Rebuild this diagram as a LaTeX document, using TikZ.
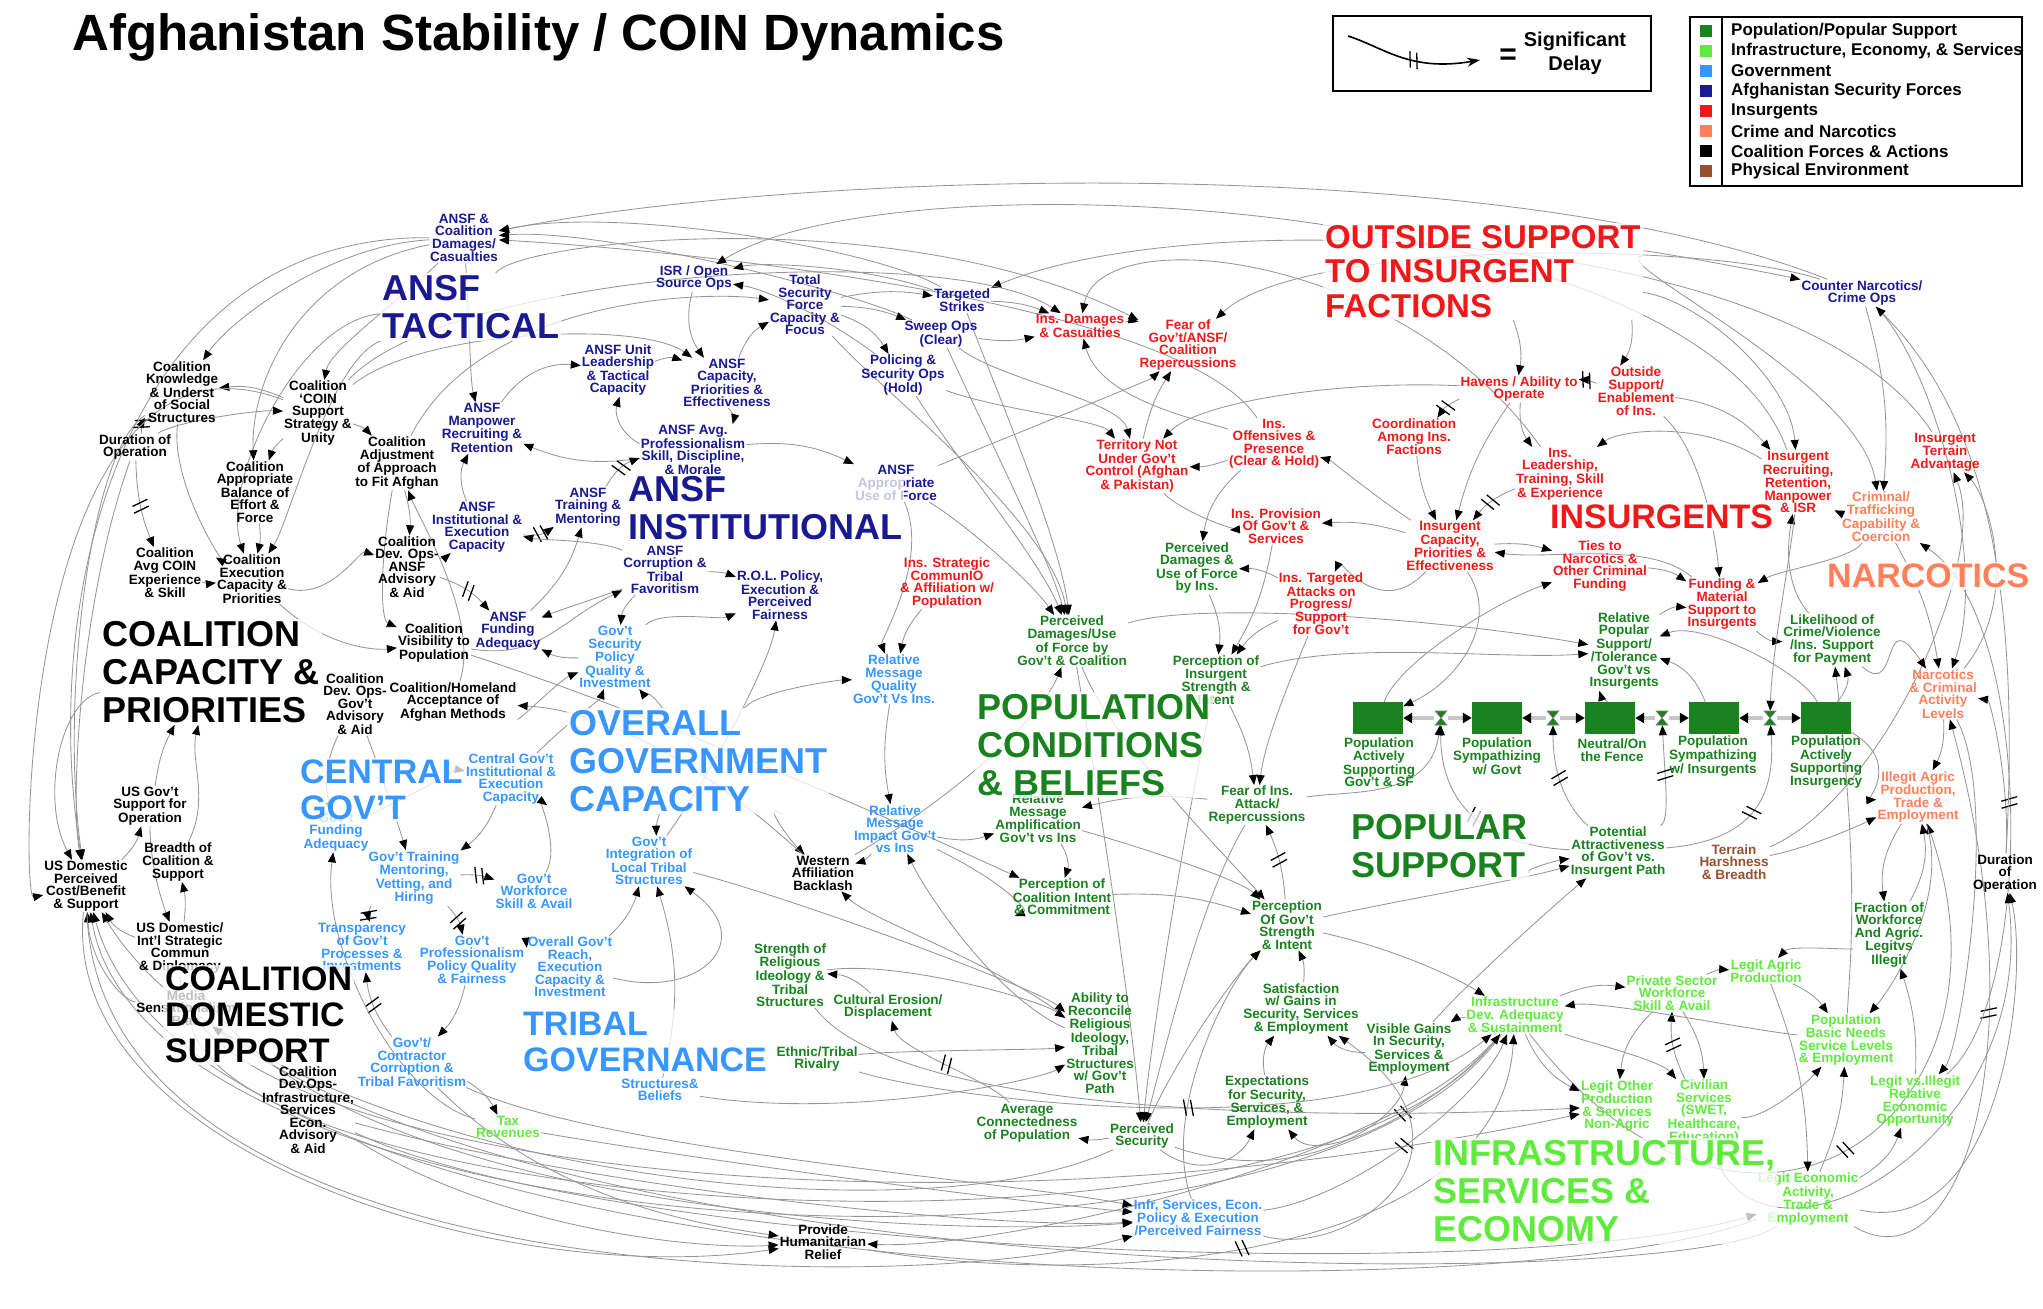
\documentclass[tikz,border=0pt]{standalone}
\usepackage{fontspec}
\setmainfont{Liberation Sans}
\usetikzlibrary{arrows.meta,decorations.markings}
\pgfdeclarelayer{bg}
\pgfsetlayers{bg,main}

\definecolor{popgreen}{RGB}{25,130,30}
\definecolor{infgreen}{RGB}{95,235,60}
\definecolor{govblue}{RGB}{55,150,255}
\definecolor{asfblue}{RGB}{25,25,145}
\definecolor{insred}{RGB}{240,25,25}
\definecolor{narcsalmon}{RGB}{255,128,90}
\definecolor{envbrown}{RGB}{150,80,45}
\definecolor{linkgray}{RGB}{150,150,150}

\newcommand\lblfont{\fontsize{13.5}{12.5}\selectfont\bfseries}
\newcommand\capsfont{\fontsize{36}{38}\selectfont\bfseries}
\newcommand\capsfontsm{\fontsize{34}{36}\selectfont\bfseries}
\newcommand\headfont{\fontsize{51}{51}\selectfont\bfseries}
\newcommand\legfont{\fontsize{17}{20}\selectfont\bfseries}

\begin{document}
\begin{tikzpicture}[x=1pt,y=-1pt,
  lbl/.style={font=\lblfont, align=center, inner sep=1pt},
  pop/.style={lbl, text=popgreen},
  inf/.style={lbl, text=infgreen},
  gov/.style={lbl, text=govblue},
  asf/.style={lbl, text=asfblue},
  ins/.style={lbl, text=insred},
  narc/.style={lbl, text=narcsalmon},
  coal/.style={lbl, text=black},
  env/.style={lbl, text=envbrown},
  big/.style={font=\capsfont, align=left, anchor=north west, inner sep=2pt,
    fill=white, fill opacity=0.75, text opacity=1},
  stockbox/.style={fill=popgreen, minimum width=50, minimum height=32, inner sep=0pt},
  valve/.style={inner sep=7pt},
  link/.style={draw=linkgray, line width=0.85pt, -{Triangle[length=10pt,width=8pt,color=black]}},
  pipe/.style={draw=black!22, line width=4pt, -{Triangle[length=9pt,width=10pt,color=black]}},
  delayed/.style={postaction={decorate}, decoration={markings,
    mark=at position 0.5 with {\draw[black,line width=1.3pt,-] (-4,-8)--(0,8) (3,-8)--(7,8);}}}
]
\useasboundingbox (0,0) rectangle (2043,1309);

% TITLE AND LEGENDS
\node[font=\headfont, anchor=west, inner sep=0pt] (title) at (72,37) {Afghanistan Stability / COIN Dynamics};

\draw[line width=1.2pt] (1333,16) rectangle (1651,91);
\coordinate (lgA) at (1348,36);
\coordinate (lgB) at (1480,60);
\draw[line width=1.6pt, -{Stealth[length=13pt,width=9pt]}, delayed] (lgA) .. controls (1385,48) and (1410,72) .. (lgB);
\node[font=\fontsize{30}{30}\selectfont\bfseries] (lgEq) at (1508,57) {=};
\node[font=\fontsize{20}{24}\selectfont\bfseries, align=center] (lgDelay) at (1575,53) {Significant\\Delay};

\draw[line width=1.2pt] (1690,17) rectangle (2022,186);
\draw[line width=1.2pt] (1722,17) -- (1722,186);
\fill[popgreen] (1700,25) rectangle +(12,12);
\fill[infgreen] (1700,45) rectangle +(12,12);
\fill[govblue] (1700,65) rectangle +(12,12);
\fill[asfblue] (1700,85) rectangle +(12,12);
\fill[insred] (1700,105) rectangle +(12,12);
\fill[narcsalmon] (1700,125) rectangle +(12,12);
\fill[black] (1700,145) rectangle +(12,12);
\fill[envbrown] (1700,165) rectangle +(12,12);
\node[font=\legfont, anchor=west, inner sep=0pt] (lg1) at (1731,31) {Population/Popular Support};
\node[font=\legfont, anchor=west, inner sep=0pt] (lg2) at (1731,51) {Infrastructure, Economy, \& Services};
\node[font=\legfont, anchor=west, inner sep=0pt] (lg3) at (1731,71) {Government};
\node[font=\legfont, anchor=west, inner sep=0pt] (lg4) at (1731,91) {Afghanistan Security Forces};
\node[font=\legfont, anchor=west, inner sep=0pt] (lg5) at (1731,111) {Insurgents};
\node[font=\legfont, anchor=west, inner sep=0pt] (lg6) at (1731,131) {Crime and Narcotics};
\node[font=\legfont, anchor=west, inner sep=0pt] (lg7) at (1731,151) {Coalition Forces \& Actions};
\node[font=\legfont, anchor=west, inner sep=0pt] (lg8) at (1731,171) {Physical Environment};

% ANSF TACTICAL
\node[asf] (casANSF) at (464,238) {ANSF \&\\Coalition\\Damages/\\Casualties};
\node[asf] (isr) at (694,278) {ISR / Open\\Source Ops};
\node[asf] (tsf) at (805,305) {Total\\Security\\Force\\Capacity \&\\Focus};
\node[asf] (strikes) at (962,300) {Targeted\\Strikes};
\node[asf] (sweep) at (941,334) {Sweep Ops\\(Clear)};
\node[asf] (unitlead) at (618,370) {ANSF Unit\\Leadership\\\& Tactical\\Capacity};
\node[asf] (ansfcap) at (727,383) {ANSF\\Capacity,\\Priorities \&\\Effectiveness};
\node[asf] (policing) at (903,375) {Policing \&\\Security Ops\\(Hold)};
\node[asf] (manpower) at (482,428) {ANSF\\Manpower\\Recruiting \&\\Retention};
\node[asf] (avgprof) at (693,450) {ANSF Avg.\\Professionalism\\Skill, Discipline,\\\& Morale};
\node[asf] (instcap) at (477,527) {ANSF\\Institutional \&\\Execution\\Capacity};
\node[asf] (training) at (588,507) {ANSF\\Training \&\\Mentoring};
\node[asf] (useforce) at (896,483) {ANSF\\Appropriate\\Use of Force};
\node[asf] (corrANSF) at (665,570) {ANSF\\Corruption \&\\Tribal\\Favoritism};
\node[asf] (rol) at (780,595) {R.O.L. Policy,\\Execution \&\\Perceived\\Fairness};
\node[asf] (fundANSF) at (508,631) {ANSF\\Funding\\Adequacy};
\node[asf] (cnops) at (1862,293) {Counter Narcotics/\\Crime Ops};

% COALITION
\node[coal] (knowledge) at (182,392) {Coalition\\Knowledge\\\& Underst\\of Social\\Structures};
\node[coal] (coin) at (318,413) {Coalition\\`COIN\\Support\\Strategy \&\\Unity};
\node[coal] (durL) at (135,447) {Duration of\\Operation};
\node[coal] (adjust) at (397,463) {Coalition\\Adjustment\\of Approach\\to Fit Afghan};
\node[coal] (balance) at (255,492) {Coalition\\Appropriate\\Balance of\\Effort \&\\Force};
\node[coal] (avgcoin) at (165,573) {Coalition\\Avg COIN\\Experience\\\& Skill};
\node[coal] (exec) at (252,579) {Coalition\\Execution\\Capacity \&\\Priorities};
\node[coal] (devANSF) at (407,567) {Coalition\\Dev. Ops-\\ANSF\\Advisory\\\& Aid};
\node[coal] (visib) at (434,643) {Coalition\\Visibility to\\Population};
\node[coal] (devGov) at (355,704) {Coalition\\Dev. Ops-\\Gov't\\Advisory\\\& Aid};
\node[coal] (homeland) at (453,702) {Coalition/Homeland\\Acceptance of\\Afghan Methods};
\node[coal] (usgov) at (150,806) {US Gov't\\Support for\\Operation};
\node[coal] (breadth) at (178,862) {Breadth of\\Coalition \&\\Support};
\node[coal] (usdom) at (86,886) {US Domestic\\Perceived\\Cost/Benefit\\\& Support};
\node[coal] (commun) at (180,948) {US Domestic/\\Int'l Strategic\\Commun\\\& Diplomacy};
\node[coal] (media) at (186,1008) {Media\\Sensationalism\\Bias};
\node[coal] (devInfr) at (308,1110) {Coalition\\Dev.Ops-\\Infrastructure,\\Services\\Econ.\\Advisory\\\& Aid};
\node[coal] (western) at (823,873) {Western\\Affiliation\\Backlash};
\node[coal] (relief) at (823,1242) {Provide\\Humanitarian\\Relief};
\node[coal] (durR) at (2005,873) {Duration\\of\\Operation};

% GOVERNMENT
\node[gov] (secpol) at (615,657) {Gov't\\Security\\Policy\\Quality \&\\Investment};
\node[gov] (msgqual) at (894,679) {Relative\\Message\\Quality\\Gov't Vs Ins.};
\node[gov] (centinst) at (511,779) {Central Gov't\\Institutional \&\\Execution\\Capacity};
\node[gov] (govfund) at (336,832) {Gov't\\Funding\\Adequacy};
\node[gov] (train) at (414,878) {Gov't Training\\Mentoring,\\Vetting, and\\Hiring};
\node[gov] (workforce) at (534,891) {Gov't\\Workforce\\Skill \& Avail};
\node[gov] (integ) at (649,861) {Gov't\\Integration of\\Local Tribal\\Structures};
\node[gov] (msgimp) at (895,829) {Relative\\Message\\Impact Gov't\\vs Ins};
\node[gov] (transp) at (362,947) {Transparency\\of Gov't\\Processes \&\\Investments};
\node[gov] (govprof) at (472,960) {Gov't\\Professionalism\\Policy Quality\\\& Fairness};
\node[gov] (reach) at (570,967) {Overall Gov't\\Reach,\\Execution\\Capacity \&\\Investment};
\node[gov] (contractor) at (412,1062) {Gov't/\\Contractor\\Corruption \&\\Tribal Favoritism};
\node[gov] (beliefs) at (660,1090) {Structures\&\\Beliefs};
\node[gov] (infrpol) at (1198,1218) {Infr, Services, Econ.\\Policy \& Execution\\/Perceived Fairness};

% INSURGENTS
\node[ins] (insdmg) at (1080,326) {Ins. Damages\\\& Casualties};
\node[ins] (fearGov) at (1188,345) {Fear of\\Gov't/ANSF/\\Coalition\\Repercussions};
\node[ins] (territory) at (1137,466) {Territory Not\\Under Gov't\\Control (Afghan\\\& Pakistan)};
\node[ins] (offens) at (1274,444) {Ins.\\Offensives \&\\Presence\\(Clear \& Hold)};
\node[ins] (provision) at (1276,526) {Ins. Provision\\Of Gov't \&\\Services};
\node[ins] (strategic) at (947,583) {Ins. Strategic\\CommunIO\\\& Affiliation w/\\Population};
\node[ins] (targeted) at (1321,604) {Ins. Targeted\\Attacks on\\Progress/\\Support\\for Gov't};
\node[ins] (havens) at (1519,389) {Havens / Ability to\\Operate};
\node[ins] (coord) at (1414,437) {Coordination\\Among Ins.\\Factions};
\node[ins] (outside) at (1636,391) {Outside\\Support/\\Enablement\\of Ins.};
\node[ins] (leadership) at (1560,474) {Ins.\\Leadership,\\Training, Skill\\\& Experience};
\node[ins] (inscap) at (1450,546) {Insurgent\\Capacity,\\Priorities \&\\Effectiveness};
\node[ins] (recruit) at (1798,482) {Insurgent\\Recruiting,\\Retention,\\Manpower\\\& ISR};
\node[ins] (ties) at (1600,566) {Ties to\\Narcotics \&\\Other Criminal\\Funding};
\node[ins] (funding) at (1722,604) {Funding \&\\Material\\Support to\\Insurgents};
\node[ins] (terrainAdv) at (1945,452) {Insurgent\\Terrain\\Advantage};

% NARCOTICS
\node[narc] (criminal) at (1881,517) {Criminal/\\Trafficking\\Capability \&\\Coercion};
\node[narc] (narcolevels) at (1943,694) {Narcotics\\\& Criminal\\Activity\\Levels};
\node[narc] (illegit) at (1918,797) {Illegit Agric\\Production,\\Trade \&\\Employment};

% POPULATION
\node[pop] (percGov) at (1072,641) {Perceived\\Damages/Use\\of Force by\\Gov't \& Coalition};
\node[pop] (percIns) at (1197,568) {Perceived\\Damages \&\\Use of Force\\by Ins.};
\node[pop] (percStr) at (1216,680) {Perception of\\Insurgent\\Strength \&\\Intent};
\node[pop] (fear) at (1257,805) {Fear of Ins.\\Attack/\\Repercussions};
\node[pop] (amplif) at (1038,818) {Relative\\Message\\Amplification\\Gov't vs Ins};
\node[pop] (coalint) at (1062,897) {Perception of\\Coalition Intent\\\& Commitment};
\node[pop] (perStrength) at (1287,925) {Perception\\Of Gov't\\Strength\\\& Intent};
\node[pop] (religion) at (790,975) {Strength of\\Religious\\Ideology \&\\Tribal\\Structures};
\node[pop] (erosion) at (888,1007) {Cultural Erosion/\\Displacement};
\node[pop] (rivalry) at (817,1059) {Ethnic/Tribal\\Rivalry};
\node[pop] (reconcile) at (1100,1043) {Ability to\\Reconcile\\Religious\\Ideology,\\Tribal\\Structures\\w/ Gov't\\Path};
\node[pop] (connect) at (1027,1123) {Average\\Connectedness\\of Population};
\node[pop] (security) at (1142,1136) {Perceived\\Security};
\node[pop] (expect) at (1267,1102) {Expectations\\for Security,\\Services, \&\\Employment};
\node[pop] (satisf) at (1301,1009) {Satisfaction\\w/ Gains in\\Security, Services\\\& Employment};
\node[pop] (visible) at (1409,1049) {Visible Gains\\In Security,\\Services \&\\Employment};
\node[pop] (relsupport) at (1624,651) {Relative\\Popular\\Support/\\/Tolerance\\Gov't vs\\Insurgents};
\node[pop] (likelihood) at (1832,640) {Likelihood of\\Crime/Violence\\/Ins. Support\\for Payment};
\node[pop] (potential) at (1618,852) {Potential\\Attractiveness\\of Gov't vs.\\Insurgent Path};
\node[pop] (fraction) at (1889,935) {Fraction of\\Workforce\\And Agric.\\Legitvs\\Illegit};

% POPULAR SUPPORT STOCKS
\node[stockbox] (s1) at (1378,718) {};
\node[stockbox] (s2) at (1497,718) {};
\node[stockbox] (s3) at (1610,718) {};
\node[stockbox] (s4) at (1714,718) {};
\node[stockbox] (s5) at (1826,718) {};
\node[valve] (v1) at (1441,718) {};
\node[valve] (v2) at (1553,718) {};
\node[valve] (v3) at (1662,718) {};
\node[valve] (v4) at (1770,718) {};
\node[pop] (s1l) at (1379,762) {Population\\Actively\\Supporting\\Gov't \& SF};
\node[pop] (s2l) at (1497,756) {Population\\Sympathizing\\w/ Govt};
\node[pop] (s3l) at (1612,750) {Neutral/On\\the Fence};
\node[pop] (s4l) at (1713,756) {Population\\Sympathizing\\w/ Insurgents};
\node[pop] (s5l) at (1826,762) {Population\\Actively\\Supporting\\Insurgency};

% INFRASTRUCTURE
\node[inf] (taxrev) at (508,1127) {Tax\\Revenues};
\node[inf] (infdev) at (1515,1015) {Infrastructure\\Dev. Adequacy\\\& Sustainment};
\node[inf] (private) at (1672,993) {Private Sector\\Workforce\\Skill \& Avail};
\node[inf] (agric) at (1766,971) {Legit Agric\\Production};
\node[inf] (basic) at (1846,1040) {Population\\Basic Needs\\Service Levels\\\& Employment};
\node[inf] (otherprod) at (1617,1106) {Legit Other\\Production\\\& Services\\Non-Agric};
\node[inf] (civil) at (1704,1112) {Civilian\\Services\\(SWET,\\Healthcare,\\Education)};
\node[inf] (legitopp) at (1915,1101) {Legit vs.Illegit\\Relative\\Economic\\Opportunity};
\node[inf] (econact) at (1808,1199) {Legit Economic\\Activity,\\Trade \&\\Employment};
\node[env] (terrainH) at (1734,862) {Terrain\\Harshness\\\& Breadth};

% SECTION HEADINGS
\node[big, text=asfblue] (tANSFtac) at (380,273) {ANSF\\TACTICAL};
\node[big, text=asfblue] (tANSFinst) at (626,474) {ANSF\\INSTITUTIONAL};
\node[big, text=black] (tCoalCap) at (100,619) {COALITION\\CAPACITY \&\\PRIORITIES};
\node[big, text=govblue] (tOverall) at (567,708) {OVERALL\\GOVERNMENT\\CAPACITY};
\node[big, text=govblue, font=\capsfontsm] (tCentral) at (298,758) {CENTRAL\\GOV'T};
\node[big, text=black, font=\capsfontsm] (tCoalDom) at (163,965) {COALITION\\DOMESTIC\\SUPPORT};
\node[big, text=govblue, font=\capsfontsm] (tTribal) at (521,1010) {TRIBAL\\GOVERNANCE};
\node[big, text=popgreen] (tPopCond) at (975,692) {POPULATION\\CONDITIONS\\\& BELIEFS};
\node[big, text=popgreen] (tPopSup) at (1349,812) {POPULAR\\SUPPORT};
\node[big, text=infgreen] (tInfra) at (1431,1138) {INFRASTRUCTURE,\\SERVICES \&\\ECONOMY};
\node[big, text=insred, font=\fontsize{33}{34.5}\selectfont\bfseries] (tOutside) at (1323,223) {OUTSIDE SUPPORT\\TO INSURGENT\\FACTIONS};
\node[big, text=insred, font=\capsfontsm] (tInsurg) at (1548,503) {INSURGENTS};
\node[big, text=narcsalmon, font=\capsfontsm] (tNarc) at (1825,562) {NARCOTICS};

% VALVES
\foreach \v in {v1,v2,v3,v4}
  \draw[fill=popgreen, draw=black!50, line width=0.6pt] ([shift={(-6,-7)}]\v.center) -- ([shift={(6,-7)}]\v.center) -- ([shift={(-6,7)}]\v.center) -- ([shift={(6,7)}]\v.center) -- cycle;

\begin{pgfonlayer}{bg}
% STOCK FLOWS
\draw[pipe] (v1) -- (s1);
\draw[pipe] (v1) -- (s2);
\draw[pipe] (v2) -- (s2);
\draw[pipe] (v2) -- (s3);
\draw[pipe] (v3) -- (s3);
\draw[pipe] (v3) -- (s4);
\draw[pipe] (v4) -- (s4);
\draw[pipe] (v4) -- (s5);

% ANSF TACTICAL LINKS
\draw[link] (strikes) .. controls (880,250) and (620,205) .. (casANSF);
\draw[link] (sweep) .. controls (850,290) and (600,228) .. (casANSF);
\draw[link] (offens) .. controls (1180,300) and (680,250) .. (casANSF);
\draw[link] (casANSF) .. controls (330,245) and (230,320) .. (knowledge);
\draw[link] (casANSF) .. controls (400,300) and (330,350) .. (coin);
\draw[link] (casANSF) .. controls (120,235) and (40,600) .. (usdom);
\draw[link] (casANSF) .. controls (470,330) and (470,380) .. (manpower);
\draw[link] (strikes) .. controls (860,265) and (760,262) .. (isr);
\draw[link] (policing) .. controls (830,320) and (770,290) .. (isr);
\draw[link] (isr) to[bend right=25] (ansfcap);
\draw[link] (ansfcap) to[bend left=20] (tsf);
\draw[link] (tsf) to[bend left=10] (strikes);
\draw[link] (tsf) to[bend left=10] (sweep);
\draw[link] (tsf) to[bend left=20] (policing);
\draw[link] (unitlead) to[bend left=20] (ansfcap);
\draw[link] (avgprof) to[bend left=40] (unitlead);
\draw[link] (manpower) to[bend left=30] (unitlead);
\draw[link] (ansfcap) to[bend left=30] (avgprof);
\draw[link] (avgprof) to[bend left=15] (manpower);
\draw[link] (avgprof) to[bend left=15] (useforce);
\draw[link,delayed] (training) to[bend left=20] (avgprof);
\draw[link,delayed] (instcap) to[bend right=20] (training);
\draw[link] (instcap) to[bend left=25] (manpower);
\draw[link] (coin) .. controls (420,330) and (640,320) .. (ansfcap);
\draw[link] (adjust) .. controls (480,300) and (700,290) .. (tsf);
\draw[link] (tsf) .. controls (880,390) and (1050,520) .. (percGov);
\draw[link] (strikes) .. controls (1000,400) and (1060,540) .. (percGov);
\draw[link] (sweep) .. controls (980,420) and (1050,560) .. (percGov);
\draw[link] (policing) .. controls (950,450) and (1040,560) .. (percGov);
\draw[link] (useforce) .. controls (960,520) and (1030,580) .. (percGov);
\draw[link] (strikes) to[bend left=10] (insdmg);
\draw[link] (sweep) to[bend right=10] (insdmg);
\draw[link] (policing) .. controls (1000,410) and (1100,420) .. (territory);
\draw[link] (sweep) .. controls (1000,380) and (1120,400) .. (territory);
\draw[link] (insdmg) to[bend left=15] (fearGov);
\draw[link] (territory) to[bend left=10] (fearGov);
\draw[link] (offens) to[bend left=10] (territory);
\draw[link] (offens) .. controls (1200,420) and (1100,400) .. (insdmg);
\draw[link] (inscap) .. controls (1380,500) and (1330,460) .. (offens);
\draw[link] (offens) to[bend right=20] (percIns);
\draw[link] (inscap) to[bend right=10] (provision);
\draw[link] (territory) .. controls (1180,510) and (1230,530) .. (provision);
\draw[link] (havens) .. controls (1350,380) and (1200,400) .. (territory);
\draw[link] (useforce) .. controls (1000,440) and (1150,380) .. (fearGov);
\draw[link] (tANSFtac) .. controls (300,320) and (220,480) .. (exec);
\draw[link] (casANSF) .. controls (300,270) and (250,380) .. (balance);
\draw[link] (tANSFtac) .. controls (330,360) and (290,520) .. (exec);

% INSURGENT LINKS
\draw[link] (tOutside) to[bend left=15] (havens);
\draw[link] (tOutside) to[bend left=20] (outside);
\draw[link,delayed] (havens) to[bend right=15] (coord);
\draw[link] (coord) to[bend right=10] (inscap);
\draw[link] (havens) to[bend right=10] (inscap);
\draw[link,delayed] (outside) to[bend right=10] (havens);
\draw[link] (havens) to[bend right=20] (leadership);
\draw[link,delayed] (leadership) to[bend right=15] (inscap);
\draw[link] (funding) .. controls (1650,540) and (1550,560) .. (inscap);
\draw[link] (outside) to[bend left=20] (recruit);
\draw[link] (tOutside) .. controls (1700,300) and (1790,380) .. (recruit);
\draw[link] (recruit) .. controls (1700,420) and (1620,430) .. (leadership);
\draw[link] (cnops) to[bend left=10] (criminal);
\draw[link] (tOutside) .. controls (1600,260) and (1860,380) .. (criminal);
\draw[link] (tOutside) .. controls (1650,250) and (1780,275) .. (cnops);
\draw[link] (cnops) .. controls (1930,360) and (1990,560) .. (narcolevels);
\draw[link] (terrainH) .. controls (1880,800) and (1990,560) .. (terrainAdv);
\draw[link] (narcolevels) .. controls (2020,600) and (1990,500) .. (terrainAdv);
\draw[link] (criminal) to[bend left=15] (recruit);
\draw[link] (likelihood) .. controls (1780,580) and (1790,530) .. (recruit);
\draw[link] (ties) to[bend left=15] (funding);
\draw[link] (criminal) .. controls (1850,560) and (1780,570) .. (funding);
\draw[link] (funding) to[bend right=20] (likelihood);
\draw[link] (outside) .. controls (1700,450) and (1715,530) .. (funding);
\draw[link] (relsupport) to[bend left=20] (funding);
\draw[link] (inscap) to[bend left=10] (ties);
\draw[link] (criminal) to[bend left=10] (narcolevels);
\draw[link] (narcolevels) to[bend left=15] (illegit);
\draw[link] (fraction) to[bend right=20] (illegit);
\draw[link] (illegit) to[bend right=20] (fraction);
\draw[link] (terrainH) .. controls (1800,850) and (1850,830) .. (illegit);
\draw[link] (recruit) .. controls (1790,560) and (1772,650) .. (v4);
\draw[link] (inscap) .. controls (1380,620) and (1340,560) .. (targeted);
\draw[link] (targeted) to[bend right=15] (percIns);
\draw[link] (inscap) .. controls (1500,620) and (1460,680) .. (s1);

% POPULAR SUPPORT LINKS
\draw[link] (percStr) .. controls (1350,640) and (1500,660) .. (relsupport);
\draw[link] (percGov) .. controls (1200,600) and (1450,620) .. (relsupport);
\draw[link] (s3) to[bend left=20] (relsupport);
\draw[link] (s4) to[bend right=25] (relsupport);
\draw[link] (s5) .. controls (1800,670) and (1700,620) .. (relsupport);
\draw[link] (s5) to[bend right=30] (likelihood);
\draw[link] (s1) .. controls (1400,660) and (1500,600) .. (ties);
\draw[link,delayed] (potential) .. controls (1470,845) and (1440,790) .. (v1);
\draw[link,delayed] (potential) .. controls (1570,810) and (1553,780) .. (v2);
\draw[link,delayed] (potential) .. controls (1670,820) and (1665,780) .. (v3);
\draw[link,delayed] (potential) .. controls (1760,840) and (1775,790) .. (v4);
\draw[link] (fear) .. controls (1350,790) and (1430,800) .. (v1);
\draw[link] (perStrength) .. controls (1400,900) and (1520,880) .. (potential);
\draw[link] (tPopSup) .. controls (1520,870) and (1560,860) .. (potential);
\draw[link] (visible) .. controls (1470,980) and (1560,900) .. (potential);
\draw[link] (s5) .. controls (1900,760) and (1870,800) .. (illegit);
\draw[link] (likelihood) .. controls (1900,700) and (1880,600) .. (narcolevels);

% POPULATION CONDITIONS LINKS
\draw[link] (western) .. controls (950,800) and (1040,720) .. (percGov);
\draw[link] (percIns) to[bend left=15] (percStr);
\draw[link] (provision) to[bend left=10] (percStr);
\draw[link] (targeted) to[bend right=15] (percStr);
\draw[link] (percStr) to[bend left=10] (fear);
\draw[link] (targeted) .. controls (1290,680) and (1265,740) .. (fear);
\draw[link,delayed] (perStrength) to[bend right=10] (fear);
\draw[link] (percGov) .. controls (1110,740) and (1230,860) .. (perStrength);
\draw[link] (coalint) to[bend left=10] (perStrength);
\draw[link] (amplif) .. controls (1150,850) and (1240,880) .. (perStrength);
\draw[link] (fear) to[bend right=10] (amplif);
\draw[link] (amplif) to[bend left=25] (coalint);
\draw[link] (msgimp) .. controls (1000,880) and (1030,910) .. (coalint);
\draw[link] (msgimp) to[bend right=15] (amplif);
\draw[link] (msgqual) to[bend right=10] (msgimp);
\draw[link] (strategic) to[bend right=15] (msgqual);
\draw[link] (tOverall) .. controls (760,690) and (840,680) .. (msgqual);
\draw[link] (useforce) .. controls (930,560) and (880,640) .. (msgqual);
\draw[link] (tOverall) .. controls (760,800) and (790,840) .. (western);
\draw[link] (msgimp) to[bend left=15] (western);
\draw[link] (reconcile) .. controls (990,960) and (870,920) .. (western);
\draw[link] (reconcile) .. controls (1000,1000) and (930,900) .. (msgimp);
\draw[link] (visib) .. controls (700,730) and (980,860) .. (coalint);
\draw[link] (religion) .. controls (900,960) and (1040,1000) .. (reconcile);
\draw[link] (erosion) to[bend right=20] (religion);
\draw[link,delayed] (connect) .. controls (990,1080) and (900,1050) .. (erosion);
\draw[link] (rivalry) .. controls (900,1050) and (1040,1050) .. (reconcile);
\draw[link] (integ) .. controls (800,900) and (1040,990) .. (reconcile);
\draw[link] (beliefs) .. controls (850,1120) and (1040,1080) .. (reconcile);
\draw[link] (percGov) .. controls (1100,800) and (1130,1000) .. (security);
\draw[link] (percStr) .. controls (1180,850) and (1150,1050) .. (security);
\draw[link] (fear) .. controls (1200,900) and (1165,1050) .. (security);
\draw[link] (security) .. controls (1180,1050) and (1240,970) .. (perStrength);
\draw[link] (security) .. controls (1200,1180) and (1240,1160) .. (expect);
\draw[link] (security) to[bend left=10] (connect);
\draw[link] (expect) to[bend left=25] (satisf);
\draw[link] (visible) to[bend left=25] (satisf);
\draw[link] (satisf) to[bend right=15] (perStrength);
\draw[link] (security) .. controls (1300,1190) and (1400,1120) .. (visible);
\draw[link] (infdev) to[bend right=15] (visible);
\draw[link,delayed] (infdev) .. controls (1450,1100) and (1320,1170) .. (expect);
\draw[link,delayed] (infrpol) .. controls (1350,1200) and (1480,1100) .. (infdev);
\draw[link] (infrpol) .. controls (1160,1110) and (1230,980) .. (perStrength);
\draw[link] (infrpol) .. controls (1350,1260) and (1500,1150) .. (satisf);

% GOVERNMENT LINKS
\draw[link] (corrANSF) .. controls (620,590) and (560,610) .. (fundANSF);
\draw[link] (corrANSF) to[bend right=20] (secpol);
\draw[link] (corrANSF) to[bend left=10] (rol);
\draw[link] (secpol) to[bend left=15] (fundANSF);
\draw[link] (centinst) .. controls (570,720) and (600,700) .. (secpol);
\draw[link] (secpol) .. controls (660,610) and (720,620) .. (rol);
\draw[link] (integ) .. controls (720,760) and (770,660) .. (rol);
\draw[link] (fundANSF) to[bend right=15] (training);
\draw[link,delayed] (devANSF) to[bend left=15] (fundANSF);
\draw[link] (exec) .. controls (330,600) and (360,550) .. (devANSF);
\draw[link] (exec) .. controls (330,650) and (380,650) .. (visib);
\draw[link] (adjust) to[bend left=10] (devANSF);
\draw[link] (devANSF) to[bend right=15] (instcap);
\draw[link] (devGov) .. controls (380,770) and (400,830) .. (train);
\draw[link] (centinst) to[bend left=15] (train);
\draw[link,delayed] (train) to[bend right=20] (transp);
\draw[link,delayed] (train) to[bend left=10] (workforce);
\draw[link,delayed] (train) to[bend left=15] (govprof);
\draw[link] (workforce) .. controls (560,850) and (540,800) .. (centinst);
\draw[link] (govprof) to[bend left=20] (reach);
\draw[link] (reach) to[bend right=15] (integ);
\draw[link,delayed] (contractor) to[bend left=15] (transp);
\draw[link] (govprof) to[bend left=15] (contractor);
\draw[link] (contractor) to[bend left=15] (taxrev);
\draw[link] (taxrev) .. controls (400,1100) and (320,950) .. (govfund);
\draw[link] (devGov) to[bend right=20] (govfund);
\draw[link] (govfund) .. controls (400,800) and (460,770) .. (centinst);
\draw[link] (tOverall) to[bend right=10] (integ);
\draw[link] (beliefs) to[bend right=15] (integ);
\draw[link] (western) .. controls (700,760) and (600,710) .. (homeland);
\draw[link] (homeland) .. controls (480,620) and (420,520) .. (adjust);
\draw[link] (tOverall) .. controls (650,690) and (640,690) .. (secpol);
\draw[link] (reach) .. controls (700,1000) and (760,940) .. (integ);
\draw[link] (corrANSF) .. controls (600,540) and (540,540) .. (instcap);

% COALITION LINKS
\draw[link,delayed] (durL) to[bend left=15] (knowledge);
\draw[link,delayed] (durL) to[bend right=10] (avgcoin);
\draw[link] (durL) .. controls (180,420) and (260,410) .. (coin);
\draw[link] (knowledge) .. controls (170,480) and (220,560) .. (exec);
\draw[link] (coin) to[bend right=15] (knowledge);
\draw[link] (coin) to[bend left=15] (adjust);
\draw[link] (coin) to[bend right=15] (balance);
\draw[link] (balance) to[bend left=10] (exec);
\draw[link] (avgcoin) to[bend right=10] (exec);
\draw[link] (usdom) to[bend right=15] (usgov);
\draw[link] (usgov) .. controls (150,870) and (165,910) .. (commun);
\draw[link] (commun) to[bend right=10] (breadth);
\draw[link] (commun) to[bend left=20] (usdom);
\draw[link] (media) .. controls (120,1000) and (90,960) .. (usdom);
\draw[link] (usgov) to[bend left=10] (tCoalCap);
\draw[link] (breadth) .. controls (210,800) and (190,760) .. (tCoalCap);
\draw[link] (knowledge) .. controls (90,450) and (60,700) .. (usdom);
\draw[link] (durL) .. controls (80,600) and (70,800) .. (usdom);
\draw[link] (tCoalCap) .. controls (60,700) and (40,800) .. (usdom);
\draw[link] (adjust) .. controls (380,560) and (380,620) .. (visib);
\draw[link] (visib) .. controls (540,660) and (560,620) .. (corrANSF);
\draw[link] (homeland) .. controls (520,720) and (560,680) .. (secpol);
\draw[link] (coin) .. controls (20,300) and (20,900) .. (usdom);

% BOTTOM AND OUTER ARCS
\draw[link] (usdom) .. controls (60,1150) and (500,1290) .. (relief);
\draw[link] (infdev) .. controls (1300,1320) and (150,1260) .. (usdom);
\draw[link] (econact) .. controls (1500,1320) and (200,1300) .. (usdom);
\draw[link] (security) .. controls (900,1250) and (250,1160) .. (usdom);
\draw[link] (devInfr) .. controls (600,1250) and (1500,1290) .. (econact);
\draw[link] (devInfr) .. controls (600,1190) and (1000,1230) .. (infrpol);
\draw[link] (taxrev) .. controls (700,1160) and (1000,1200) .. (infrpol);
\draw[link] (contractor) .. controls (600,1150) and (1000,1180) .. (infrpol);
\draw[link] (devInfr) .. controls (500,1230) and (700,1250) .. (relief);
\draw[link] (contractor) .. controls (550,1200) and (700,1225) .. (relief);
\draw[link] (infdev) .. controls (1400,1160) and (1000,1250) .. (relief);
\draw[link] (media) .. controls (250,1220) and (1300,1290) .. (infdev);
\draw[link] (commun) .. controls (180,1150) and (900,1260) .. (otherprod);
\draw[link,delayed] (relief) .. controls (1100,1290) and (1500,1260) .. (infdev);
\draw[link,delayed] (econact) .. controls (1960,1290) and (2040,1050) .. (narcolevels);
\draw[link,delayed] (infdev) .. controls (1750,1320) and (2030,1120) .. (illegit);
\draw[link] (durR) .. controls (2010,780) and (1990,700) .. (narcolevels);
\draw[link] (econact) .. controls (2000,1240) and (2030,980) .. (durR);
\draw[link] (rivalry) .. controls (950,1100) and (1350,1150) .. (infdev);
\draw[link,delayed] (religion) .. controls (900,1120) and (1350,1120) .. (otherprod);
\draw[link] (usdom) .. controls (100,1290) and (900,1300) .. (infrpol);
\draw[link] (commun) .. controls (300,1200) and (900,1240) .. (infrpol);
\draw[link,delayed] (legitopp) .. controls (2035,1000) and (2035,620) .. (criminal);
\draw[link] (civil) .. controls (1750,1300) and (2040,1150) .. (durR);
\draw[link] (econact) .. controls (1700,1290) and (600,1300) .. (media);
\draw[link] (durR) .. controls (2020,600) and (1990,420) .. (cnops);

% TOP ARCS
\draw[link] (cnops) .. controls (1500,150) and (800,170) .. (casANSF);
\draw[link] (recruit) .. controls (1700,200) and (900,150) .. (isr);
\draw[link] (terrainAdv) .. controls (1800,230) and (1200,200) .. (strikes);
\draw[link] (leadership) .. controls (1400,250) and (1100,220) .. (insdmg);
\draw[link] (tANSFtac) .. controls (520,240) and (900,200) .. (fearGov);
\draw[link] (coin) .. controls (450,270) and (950,240) .. (insdmg);
\draw[link] (cnops) .. controls (1700,240) and (1300,240) .. (fearGov);

% INFRASTRUCTURE LINKS
\draw[link] (infdev) to[bend left=15] (private);
\draw[link] (infdev) to[bend right=20] (otherprod);
\draw[link] (infdev) .. controls (1580,1040) and (1660,1060) .. (civil);
\draw[link] (private) to[bend left=15] (agric);
\draw[link] (private) to[bend right=20] (otherprod);
\draw[link] (private) to[bend left=15] (civil);
\draw[link,delayed] (civil) to[bend left=15] (private);
\draw[link] (agric) to[bend left=15] (basic);
\draw[link] (civil) .. controls (1760,1120) and (1800,1090) .. (basic);
\draw[link] (econact) to[bend right=10] (basic);
\draw[link] (agric) to[bend left=10] (econact);
\draw[link] (econact) to[bend right=20] (legitopp);
\draw[link] (legitopp) to[bend right=10] (fraction);
\draw[link] (fraction) .. controls (1850,950) and (1790,945) .. (agric);
\draw[link] (basic) .. controls (1750,1030) and (1600,1000) .. (infdev);
\draw[link] (illegit) .. controls (1950,900) and (1890,990) .. (basic);
\draw[link] (narcolevels) .. controls (2000,800) and (1960,1050) .. (legitopp);
\draw[link] (basic) .. controls (1850,960) and (1860,880) .. (likelihood);
\draw[link] (perStrength) .. controls (1400,950) and (1460,980) .. (infdev);
\end{pgfonlayer}
\end{tikzpicture}
\end{document}
